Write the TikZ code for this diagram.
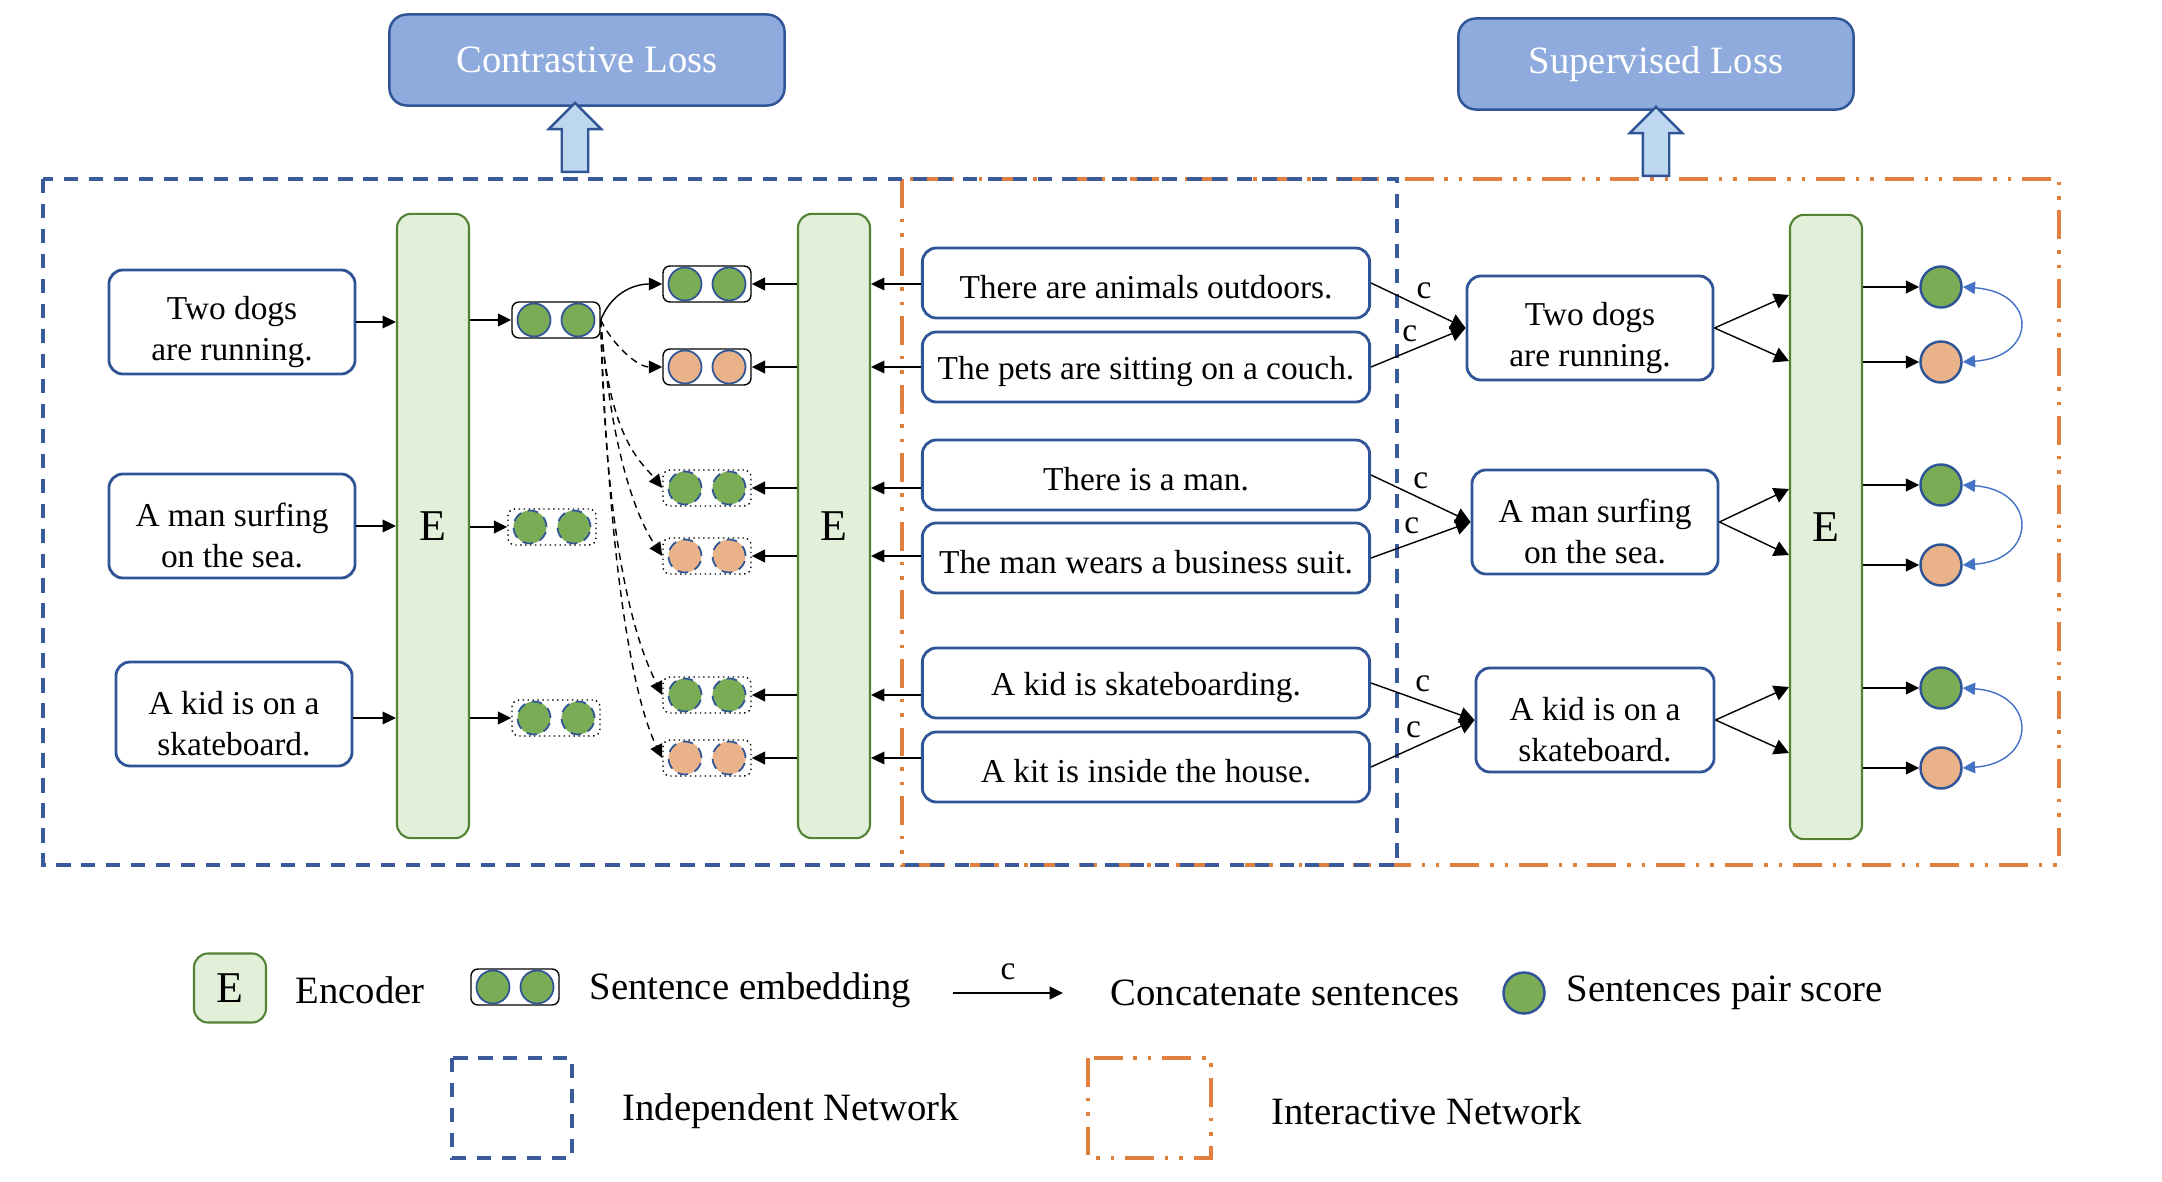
\documentclass[tikz,border=0pt]{standalone}
\usepackage{fontspec}
\setmainfont{Liberation Serif}
\usetikzlibrary{shapes.arrows, arrows.meta}

\definecolor{boxblue}{HTML}{2F5597}
\definecolor{lossblue}{HTML}{8FAADC}
\definecolor{arrowblue}{HTML}{BDD7EE}
\definecolor{encfill}{HTML}{E2F0D9}
\definecolor{encline}{HTML}{548235}
\definecolor{embgreen}{HTML}{7AAB55}
\definecolor{embpeach}{HTML}{E9B289}
\definecolor{netorange}{HTML}{E07F3E}
\definecolor{netblue}{HTML}{3A5A9B}
\definecolor{curveblue}{HTML}{4472C4}

\newcommand{\embpair}[5]{%
\node[embbox,#4] (#1) at #2 {};
\node[embdot,fill=#3,#5] (#1a) at ([xshift=-0.22cm]#1.center) {};
\node[embdot,fill=#3,#5] (#1b) at ([xshift=0.22cm]#1.center) {};
}
\newcommand{\twoline}[2]{\rule{0pt}{12.2pt}#1\\#2}

\begin{document}
\begin{tikzpicture}[x=0.01cm, y=-0.01cm,
font=\fontsize{9.5}{11.7}\selectfont,
sent/.style={draw=boxblue, line width=0.8pt, rounded corners=4pt, align=center,
  minimum width=2.46cm, minimum height=1.04cm, inner sep=1pt},
mid/.style={draw=boxblue, line width=0.8pt, rounded corners=4pt,
  minimum width=4.47cm, minimum height=0.70cm, inner sep=1pt,
  execute at begin node={\rule{0pt}{9pt}}},
enc/.style={draw=encline, fill=encfill, line width=0.6pt, rounded corners=4pt,
  minimum width=0.72cm, minimum height=6.24cm, inner sep=0pt,
  font=\fontsize{12.5}{15}\selectfont},
loss/.style={draw=boxblue, fill=lossblue, line width=0.7pt, rounded corners=5pt,
  text=white, minimum width=3.95cm, minimum height=0.91cm,
  font=\fontsize{11}{13}\selectfont},
up/.style={single arrow, rotate=90, draw=boxblue, fill=arrowblue, line width=0.7pt,
  minimum height=0.69cm, minimum width=0.5cm, single arrow head extend=0.13cm,
  single arrow head indent=0pt, inner xsep=0pt, inner ysep=0.12cm},
embbox/.style={draw=black, line width=0.4pt, rounded corners=2pt,
  minimum width=0.88cm, minimum height=0.36cm, inner sep=0pt},
embdot/.style={circle, draw=boxblue, line width=0.5pt, minimum size=0.33cm, inner sep=0pt},
score/.style={circle, draw=boxblue, line width=0.7pt, minimum size=0.41cm, inner sep=0pt},
arr/.style={line width=0.5pt, -{Triangle[length=3.8pt,width=3.6pt]}},
carr/.style={line width=0.4pt, -{Triangle[length=4.2pt,width=4.5pt]}},
darr/.style={arr, line width=0.4pt, dash pattern=on 2pt off 1.5pt},
scarr/.style={draw=curveblue, line width=0.4pt,
  {Triangle[length=3.5pt,width=3.5pt]}-{Triangle[length=3.5pt,width=3.5pt]}},
cl/.style={font=\fontsize{9.5}{11}\selectfont, inner sep=0.5pt},
indep/.style={draw=netblue, line width=1.1pt, dash pattern=on 4.1pt off 3pt},
inter/.style={draw=netorange, line width=1.1pt,
  dash pattern=on 8.2pt off 3.1pt on 1pt off 3.1pt on 1pt off 3.1pt},
legtext/.style={anchor=west, font=\fontsize{11}{13}\selectfont, inner sep=0pt}]

\useasboundingbox (0,0) rectangle (2162,1182);

\draw[inter] (902,179) rectangle (2059,865);
\draw[indep] (43,179) rectangle (1397,865);

\node[loss] (closs) at (587,60) {Contrastive Loss};
\node[loss] (sloss) at (1656,64) {Supervised Loss};
\node[up] (cup) at (575,144) {};
\node[up] (sup) at (1656,148) {};

\node[enc] (enc1) at (433,526) {E};
\node[enc] (enc2) at (834,526) {E};
\node[enc] (enc3) at (1826,527) {E};

\node[sent] (s1) at (232,322) {\twoline{Two dogs}{are running.}};
\node[sent] (s2) at (232,526) {\twoline{A man surfing}{on the sea.}};
\node[sent, minimum width=2.36cm] (s3) at (234,714) {\twoline{A kid is on a}{skateboard.}};

\embpair{l1}{(556,320)}{embgreen}{solid}{solid}
\embpair{l2}{(552,527)}{embgreen}{densely dotted}{densely dashed}
\embpair{l3}{(556,718)}{embgreen}{densely dotted}{densely dashed}

\embpair{r1}{(707,284)}{embgreen}{solid}{solid}
\embpair{r2}{(707,367)}{embpeach}{solid}{solid}
\embpair{r3}{(707,488)}{embgreen}{densely dotted}{densely dashed}
\embpair{r4}{(707,556)}{embpeach}{densely dotted}{densely dashed}
\embpair{r5}{(707,695)}{embgreen}{densely dotted}{densely dashed}
\embpair{r6}{(707,758)}{embpeach}{densely dotted}{densely dashed}

\node[mid] (m1) at (1146,283) {There are animals outdoors.};
\node[mid] (m2) at (1146,367) {The pets are sitting on a couch.};
\node[mid] (m3) at (1146,475) {There is a man.};
\node[mid] (m4) at (1146,558) {The man wears a business suit.};
\node[mid] (m5) at (1146,683) {A kid is skateboarding.};
\node[mid] (m6) at (1146,767) {A kit is inside the house.};

\node[sent] (t1) at (1590,328) {\twoline{Two dogs}{are running.}};
\node[sent] (t2) at (1595,522) {\twoline{A man surfing}{on the sea.}};
\node[sent, minimum width=2.38cm] (t3) at (1595,720) {\twoline{A kid is on a}{skateboard.}};

\node[score, fill=embgreen] (g1) at (1941,287) {};
\node[score, fill=embpeach] (o1) at (1941,362) {};
\node[score, fill=embgreen] (g2) at (1941,485) {};
\node[score, fill=embpeach] (o2) at (1941,565) {};
\node[score, fill=embgreen] (g3) at (1941,688) {};
\node[score, fill=embpeach] (o3) at (1941,768) {};

\draw[arr] (s1.east) -- (s1.east -| enc1.west);
\draw[arr] (s2.east) -- (s2.east -| enc1.west);
\draw[arr] (s3.east |- l3) -- (enc1.west |- l3);
\draw[arr] (enc1.east |- l1) -- (l1.west);
\draw[arr] (enc1.east |- l2) -- (l2.west);
\draw[arr] (enc1.east |- l3) -- (l3.west);

\foreach \r in {r1,r2,r3,r4,r5,r6}
  \draw[arr] (enc2.west |- \r) -- (\r.east);
\draw[arr] (m1.west |- r1) -- (enc2.east |- r1);
\draw[arr] (m2.west |- r2) -- (enc2.east |- r2);
\draw[arr] (m3.west |- r3) -- (enc2.east |- r3);
\draw[arr] (m4.west |- r4) -- (enc2.east |- r4);
\draw[arr] (m5.west |- r5) -- (enc2.east |- r5);
\draw[arr] (m6.west |- r6) -- (enc2.east |- r6);

\draw[arr, line width=0.4pt] (l1.east) .. controls +(12,-30) and +(-25,0) .. (r1.west);
\draw[darr] (l1.east) .. controls +(12,25) and +(-25,0) .. (r2.west);
\draw[darr] (l1.east) .. controls +(8,120) and +(-20,-25) .. (r3.west);
\draw[darr] (l1.east) .. controls +(12,150) and +(-20,-30) .. (r4.west);
\draw[darr] (l1.east) .. controls +(5,250) and +(-20,-40) .. (r5.west);
\draw[darr] (l1.east) .. controls +(10,300) and +(-20,-40) .. (r6.west);

\draw[carr] (m1.east) -- node[cl, pos=.56, above=2pt] {c} (t1.west);
\draw[carr] (m2.east) -- node[cl, pos=.41, above=2pt] {c} (t1.west);
\draw[carr] (m3.east) -- node[cl, pos=.5, above=2pt] {c} (t2.west);
\draw[carr] (m4.east) -- node[cl, pos=.41, above=2pt] {c} (t2.west);
\draw[carr] (m5.east) -- node[cl, pos=.5, above=2pt] {c} (t3.west);
\draw[carr] (m6.east) -- node[cl, pos=.41, above=2pt] {c} (t3.west);

\draw[carr] (t1.east) -- ([yshift=0.33cm]enc3.west |- t1.east);
\draw[carr] (t1.east) -- ([yshift=-0.33cm]enc3.west |- t1.east);
\draw[carr] (t2.east) -- ([yshift=0.33cm]enc3.west |- t2.east);
\draw[carr] (t2.east) -- ([yshift=-0.33cm]enc3.west |- t2.east);
\draw[carr] (t3.east) -- ([yshift=0.33cm]enc3.west |- t3.east);
\draw[carr] (t3.east) -- ([yshift=-0.33cm]enc3.west |- t3.east);

\foreach \c in {g1,o1,g2,o2,g3,o3}
  \draw[arr] (enc3.east |- \c) -- (\c.west);
\draw[scarr] (g1.east) .. controls +(75,5) and +(75,-5) .. (o1.east);
\draw[scarr] (g2.east) .. controls +(75,5) and +(75,-5) .. (o2.east);
\draw[scarr] (g3.east) .. controls +(75,5) and +(75,-5) .. (o3.east);

\node[enc, minimum height=0.69cm] (legE) at (230,988) {E};
\node[legtext] (legEt) at (295,990) {Encoder};
\embpair{lege}{(515,987)}{embgreen}{solid}{solid}
\node[legtext] (legembt) at (589,990) {Sentence embedding};
\coordinate (lca) at (953,993);
\coordinate (lcb) at (1063,993);
\draw[arr] (lca) -- node[cl, above=3pt] {c} (lcb);
\node[legtext] (legct) at (1110,993) {Concatenate sentences};
\node[score, fill=embgreen] (legs) at (1524,993) {};
\node[legtext] (legst) at (1566,993) {Sentences pair score};
\draw[indep] (452,1058) rectangle (572,1158);
\node[legtext] (legit) at (622,1111) {Independent Network};
\draw[inter] (1088,1058) rectangle (1211,1158);
\node[legtext] (legnt) at (1271,1111) {Interactive Network};
\end{tikzpicture}
\end{document}
